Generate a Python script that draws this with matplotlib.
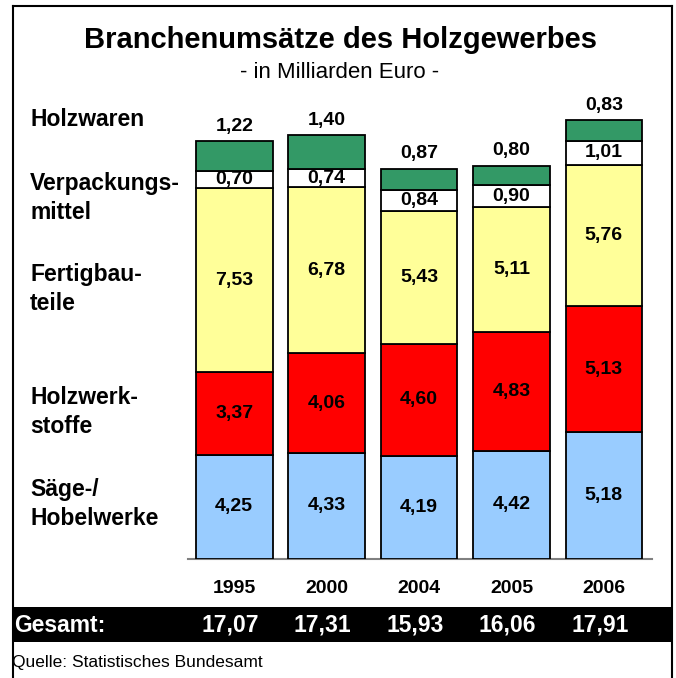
import matplotlib.pyplot as plt
import matplotlib.transforms as mtransforms
from matplotlib.patches import Rectangle
from matplotlib.lines import Line2D

plt.rcParams['font.family'] = ['Liberation Sans', 'DejaVu Sans']

# data (Mrd. Euro)
years = ['1995', '2000', '2004', '2005', '2006']
saege = [4.25, 4.33, 4.19, 4.42, 5.18]
holzwerkstoffe = [3.37, 4.06, 4.60, 4.83, 5.13]
fertigbau = [7.53, 6.78, 5.43, 5.11, 5.76]
verpackung = [0.70, 0.74, 0.84, 0.90, 1.01]
holzwaren = [1.22, 1.40, 0.87, 0.80, 0.83]
gesamt = ['17,07', '17,31', '15,93', '16,06', '17,91']

series = [saege, holzwerkstoffe, fertigbau, verpackung, holzwaren]
colors = ['#99CCFF', '#FF0000', '#FFFF99', '#FFFFFF', '#339966']

W, H = 676, 678
fig = plt.figure(figsize=(W / 100, H / 100), dpi=100)


def fx(x):
    return x / W


def fy(y):
    return 1 - y / H


# axes: baseline at y=559 px, 24.5 px per Mrd.
ax = fig.add_axes([fx(188), fy(559), fx(652) - fx(188), (559 - 80) / H])
ax.set_xlim(-0.5, 4.52)
ax.set_ylim(0, (559 - 80) / 24.5)

x = range(len(years))
bottom = [0] * len(years)
for i, (vals, col) in enumerate(zip(series, colors)):
    ax.bar(x, vals, width=0.83, bottom=bottom, color=col,
           edgecolor='black', linewidth=1.3, zorder=3)
    for j, v in enumerate(vals):
        lab = f'{v:.2f}'.replace('.', ',')
        if i < len(series) - 1:
            ax.text(j, bottom[j] + v / 2, lab, ha='center', va='center',
                    fontsize=14, fontweight='bold', zorder=4)
        else:
            ax.annotate(lab, (j, bottom[j] + v), xytext=(0, 4.5),
                        textcoords='offset points', ha='center', va='bottom',
                        fontsize=14, fontweight='bold', zorder=4)
    bottom = [b + v for b, v in zip(bottom, vals)]

for s in ['top', 'left', 'right']:
    ax.spines[s].set_visible(False)
ax.spines['bottom'].set_color('#808080')
ax.spines['bottom'].set_linewidth(1.5)
ax.set_yticks([])
ax.set_xticks(list(x), years)
ax.tick_params(axis='x', length=0, pad=15, labelsize=14)
for t in ax.get_xticklabels():
    t.set_fontweight('bold')

# title
fig.text(fx(341), fy(40), 'Branchenumsätze des Holzgewerbes', ha='center',
         va='center', fontsize=21, fontweight='bold')
fig.text(fx(340), fy(72), '- in Milliarden Euro -', ha='center',
         va='center', fontsize=16)

# category labels on the left
cat_labels = ['Holzwaren', 'Verpackungs-\nmittel', 'Fertigbau-\nteile',
              'Holzwerk-\nstoffe', 'Säge-/\nHobelwerke']
cat_y = [120, 198, 289, 412, 504]
for lab, yy in zip(cat_labels, cat_y):
    fig.text(fx(30), fy(yy), lab, ha='left', va='center', fontsize=16.5,
             fontweight='bold', linespacing=1.35)

# black band with totals
fig.patches.append(Rectangle((fx(13), fy(642)), fx(672) - fx(13),
                             (642 - 607) / H, transform=fig.transFigure,
                             facecolor='black', edgecolor='none', zorder=-1))
fig.text(fx(14), fy(625), 'Gesamt:', color='white', ha='left', va='center',
         fontsize=16.5, fontweight='bold')
trans = mtransforms.blended_transform_factory(ax.transData, fig.transFigure)
trans = trans + mtransforms.ScaledTranslation(-4 / 100, 0, fig.dpi_scale_trans)
for j, g in enumerate(gesamt):
    ax.text(j, fy(625), g, transform=trans, color='white', ha='center',
            va='center', fontsize=16.5, fontweight='bold', clip_on=False)

fig.text(fx(12), fy(663), 'Quelle: Statistisches Bundesamt', ha='left',
         va='center', fontsize=12.5)

# frame
lw = 1.5
fig.lines.append(Line2D([fx(13), fx(13)], [0, fy(6)], color='black',
                        linewidth=lw, transform=fig.transFigure))
fig.lines.append(Line2D([fx(13), fx(672)], [fy(6), fy(6)], color='black',
                        linewidth=lw, transform=fig.transFigure))
fig.lines.append(Line2D([fx(672), fx(672)], [0, fy(6)], color='black',
                        linewidth=lw, transform=fig.transFigure))

fig.savefig('out.png', dpi=100)
